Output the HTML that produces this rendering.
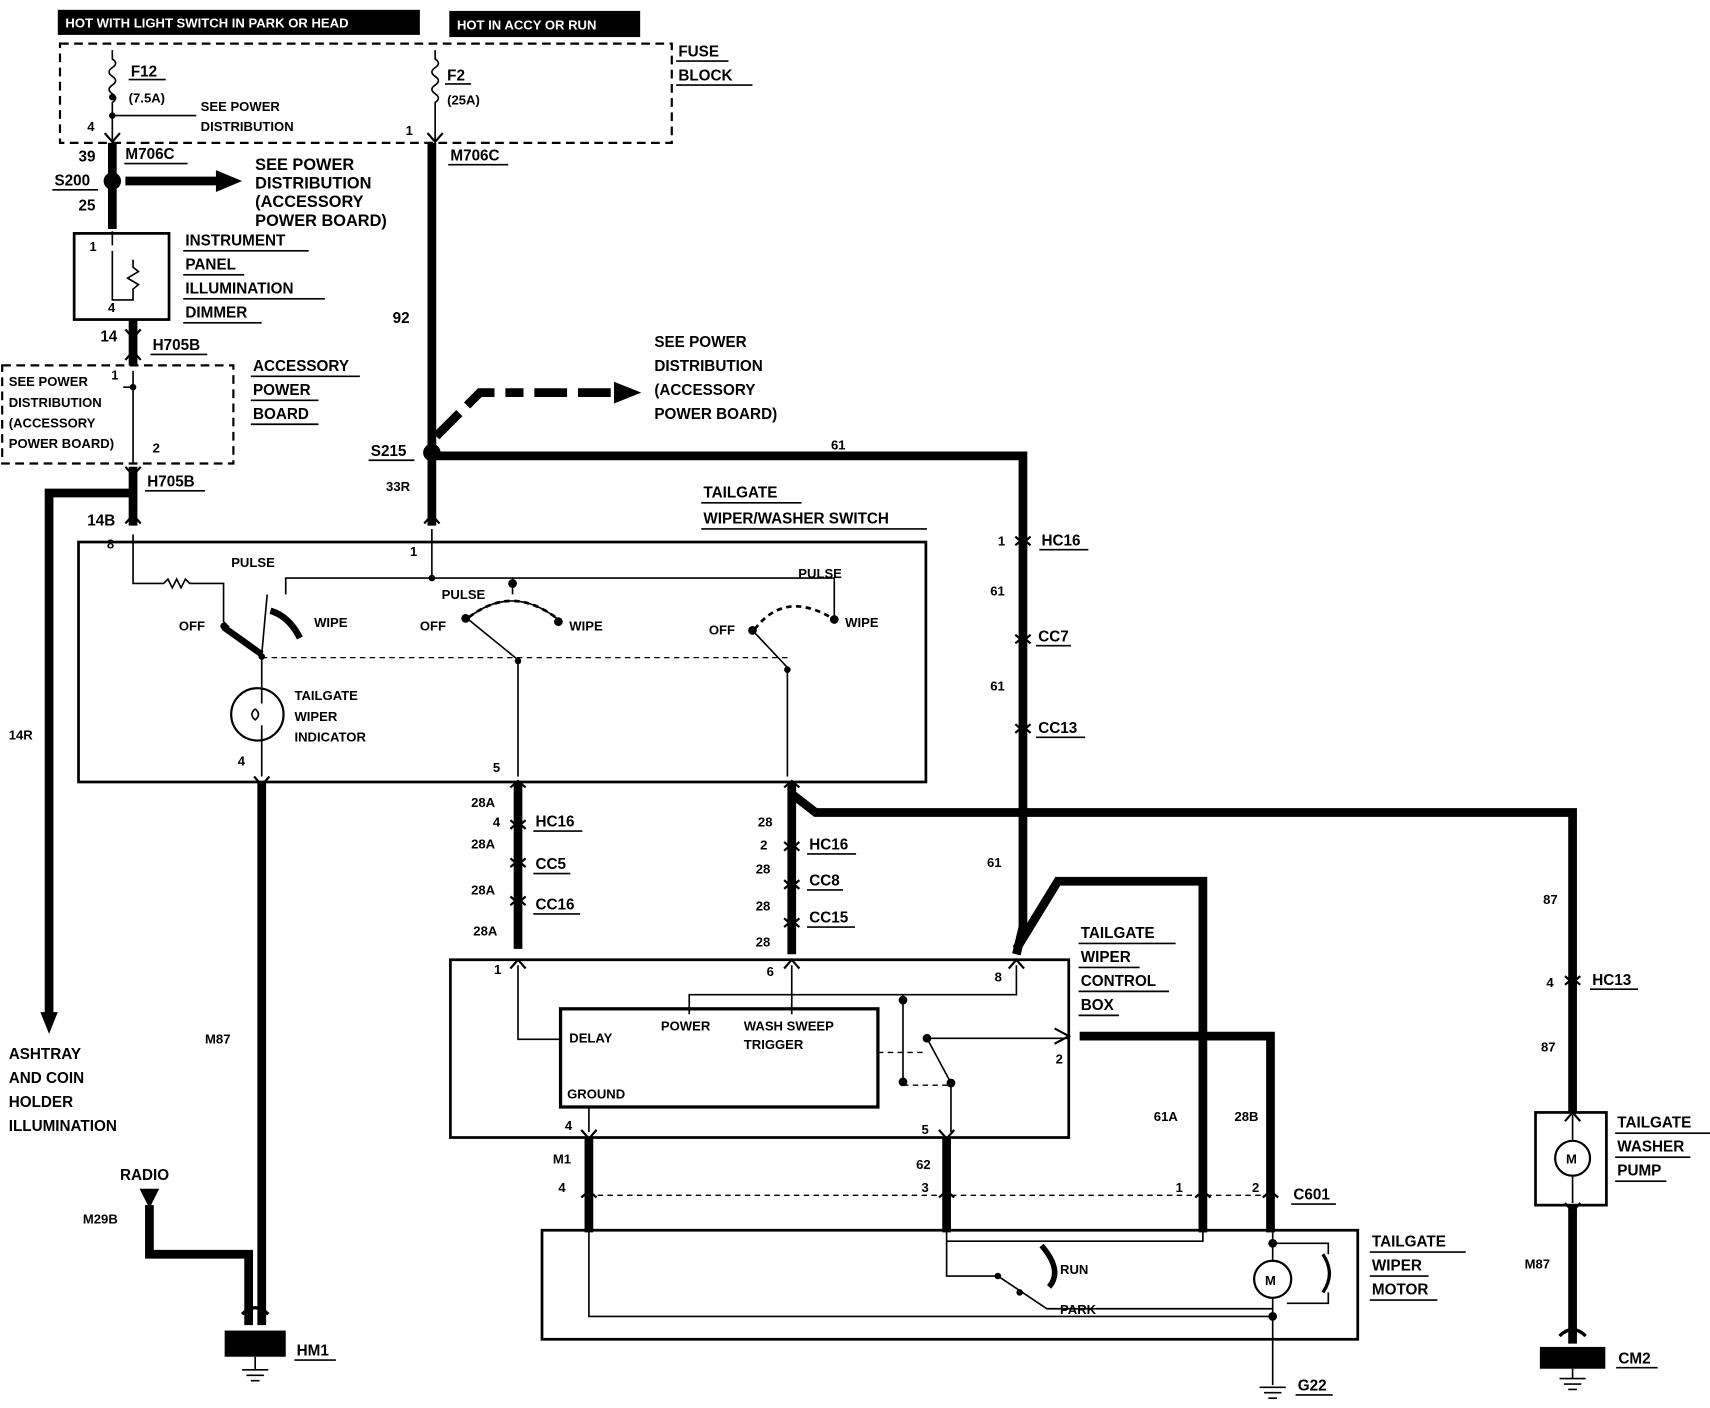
<!DOCTYPE html>
<html><head><meta charset="utf-8"><style>
html,body{margin:0;padding:0;background:#fff}
svg{display:block}
text{font-family:"Liberation Sans",sans-serif;font-weight:bold;font-size:14px;fill:#000}
.s{font-size:12px}
.t{stroke:#000;stroke-width:8;fill:none}
.n{stroke:#000;stroke-width:1.5;fill:none}
.d{stroke:#000;stroke-width:2;fill:none;stroke-dasharray:8 5}
.dt{stroke:#000;stroke-width:1.2;fill:none;stroke-dasharray:5 4}
.u{stroke:#000;stroke-width:1.5}
</style></head><body>
<svg width="1710" height="1408" viewBox="0 0 1568 1291" preserveAspectRatio="none">
<rect width="1568" height="1291" fill="#fff"/>
<!-- top labels -->
<rect x="53" y="9" width="332" height="23" fill="#000"/>
<text x="60" y="25" style="fill:#fff" class="s">HOT WITH LIGHT SWITCH IN PARK OR HEAD</text>
<rect x="412" y="10" width="175" height="24" fill="#000"/>
<text x="419" y="27" style="fill:#fff" class="s">HOT IN ACCY OR RUN</text>
<rect x="55" y="40" width="561" height="91" class="d"/>
<text x="622" y="52">FUSE</text><line x1="620" y1="56" x2="668" y2="56" class="u"/>
<text x="622" y="74">BLOCK</text><line x1="620" y1="78" x2="690" y2="78" class="u"/>
<!-- F12 -->
<path d="M103 46 v8 q6 4 0 8 q-6 4 0 8 q6 4 0 8 q-6 4 0 8 q6 4 0 8 v40" class="n"/>
<circle cx="103" cy="89" r="3"/><circle cx="103" cy="106" r="3"/>
<path d="M103 106 H180" class="n"/>
<text x="120" y="70">F12</text><line x1="118" y1="73" x2="152" y2="73" class="u"/>
<text x="118" y="94" class="s">(7.5A)</text>
<text x="184" y="102" class="s">SEE POWER</text><text x="184" y="120" class="s">DISTRIBUTION</text>
<text x="80" y="120" class="s">4</text>
<!-- F2 -->
<path d="M399 46 v8 q6 4 0 8 q-6 4 0 8 q6 4 0 8 q-6 4 0 8 q6 4 0 8 v40" class="n"/>
<text x="410" y="74">F2</text><line x1="408" y1="77" x2="432" y2="77" class="u"/>
<text x="410" y="96" class="s">(25A)</text>
<text x="372" y="124" class="s">1</text>
<!-- left wire -->
<path d="M103 131 V210" class="t"/>
<circle cx="103" cy="166" r="8"/>
<path d="M115 166 H200" class="t"/><path d="M198 156 L222 166 L198 176 Z"/>
<text x="72" y="148">39</text><text x="115" y="146">M706C</text><line x1="114" y1="150" x2="172" y2="150" class="u"/>
<text x="50" y="170">S200</text><line x1="48" y1="174" x2="90" y2="174" class="u"/>
<text x="72" y="193">25</text>
<text x="234" y="156" style="font-size:15px">SEE POWER</text>
<text x="234" y="173" style="font-size:15px">DISTRIBUTION</text>
<text x="234" y="190" style="font-size:15px">(ACCESSORY</text>
<text x="234" y="207" style="font-size:15px">POWER BOARD)</text>
<!-- dimmer -->
<rect x="68" y="214" width="87" height="79" class="n" style="stroke-width:2.5"/>
<path d="M103 212 V225 M103 230 V275 H122 V265 l5 -4 l-10 -6 l10 -6 l-5 -4 V238" class="n"/>
<text x="82" y="230" class="s">1</text><text x="99" y="286" class="s">4</text>
<text x="170" y="225">INSTRUMENT</text><line x1="168" y1="230" x2="283" y2="230" class="u"/>
<text x="170" y="247">PANEL</text><line x1="168" y1="252" x2="224" y2="252" class="u"/>
<text x="170" y="269">ILLUMINATION</text><line x1="168" y1="274" x2="298" y2="274" class="u"/>
<text x="170" y="291">DIMMER</text><line x1="168" y1="296" x2="240" y2="296" class="u"/>
<path d="M122 293 V335" class="t"/>
<text x="92" y="313">14</text><text x="140" y="321">H705B</text><line x1="138" y1="325" x2="190" y2="325" class="u"/>
<!-- accessory board -->
<rect x="2" y="335" width="212" height="90" class="d"/>
<text x="8" y="354" class="s">SEE POWER</text><text x="8" y="373" class="s">DISTRIBUTION</text>
<text x="8" y="392" class="s">(ACCESSORY</text><text x="8" y="411" class="s">POWER BOARD)</text>
<path d="M122 340 V425 M122 355 H113" class="n"/><circle cx="122" cy="355" r="3"/>
<text x="102" y="348" class="s">1</text><text x="140" y="415" class="s">2</text>
<text x="232" y="340">ACCESSORY</text><line x1="230" y1="345" x2="330" y2="345" class="u"/>
<text x="232" y="362">POWER</text><line x1="230" y1="367" x2="292" y2="367" class="u"/>
<text x="232" y="384">BOARD</text><line x1="230" y1="389" x2="292" y2="389" class="u"/>
<path d="M122 428 V482 M122 452 H45 V930" class="t"/>
<path d="M37 928 L45 948 L53 928 Z"/>
<text x="135" y="446">H705B</text><line x1="133" y1="450" x2="188" y2="450" class="u"/>
<text x="80" y="482">14B</text><text x="8" y="678" class="s">14R</text>
<text x="8" y="971">ASHTRAY</text><text x="8" y="993">AND COIN</text>
<text x="8" y="1015">HOLDER</text><text x="8" y="1037">ILLUMINATION</text>
<!-- main feed -->
<path d="M396 131 V482" class="t"/>
<text x="413" y="147">M706C</text><line x1="411" y1="151" x2="466" y2="151" class="u"/>
<text x="360" y="296">92</text>
<circle cx="396" cy="415" r="8"/>
<path d="M400 400 L440 360 H480" class="t" style="stroke-dasharray:30 10"/>
<path d="M490 360 H565" class="t" style="stroke-dasharray:30 10"/>
<path d="M563 350 L588 360 L563 370 Z"/>
<text x="600" y="318">SEE POWER</text><text x="600" y="340">DISTRIBUTION</text>
<text x="600" y="362">(ACCESSORY</text><text x="600" y="384">POWER BOARD)</text>
<text x="340" y="418">S215</text><line x1="338" y1="422" x2="380" y2="422" class="u"/>
<text x="354" y="450" class="s">33R</text>
<path d="M400 418 H938 V850 L932 875" class="t"/>
<text x="762" y="412" class="s">61</text>
<text x="915" y="500" class="s">1</text><text x="955" y="500">HC16</text><line x1="953" y1="504" x2="998" y2="504" class="u"/>
<text x="908" y="546" class="s">61</text>
<text x="952" y="588">CC7</text><line x1="950" y1="592" x2="982" y2="592" class="u"/>
<text x="908" y="633" class="s">61</text>
<text x="952" y="672">CC13</text><line x1="950" y1="676" x2="995" y2="676" class="u"/>
<text x="905" y="795" class="s">61</text>
<!-- switch box -->
<rect x="72" y="497" width="777" height="220" class="n" style="stroke-width:2.5"/>
<text x="645" y="456">TAILGATE</text><line x1="643" y1="461" x2="735" y2="461" class="u"/>
<text x="645" y="480">WIPER/WASHER SWITCH</text><line x1="643" y1="485" x2="850" y2="485" class="u"/>
<text x="98" y="503" class="s">8</text><text x="376" y="510" class="s">1</text>
<path d="M122 490 V535 H150 l4 -4 l4 8 l4 -8 l4 8 l4 -8 l4 4 H205 V570 L210 575" class="n"/>
<path d="M396 485 V530 H262 V545 M396 530 H765 V565 M470 530 V545" class="n"/>
<circle cx="396" cy="530" r="3"/><circle cx="470" cy="535" r="4"/>
<path d="M205 575 L240 600 M248 560 Q265 565 275 585" class="n" style="stroke-width:6"/>
<path d="M240 600 L245 545" class="n"/>
<circle cx="205" cy="574" r="3"/><circle cx="240" cy="602" r="3"/>
<text x="164" y="578" class="s">OFF</text><text x="212" y="520" class="s">PULSE</text><text x="288" y="575" class="s">WIPE</text>
<path d="M427 566 L475 605 M430 566 Q470 535 512 568" class="n"/>
<path d="M430 566 Q470 535 512 568" class="dt" style="stroke-width:2.5"/>
<circle cx="427" cy="567" r="4"/><circle cx="512" cy="570" r="4"/><circle cx="475" cy="606" r="3"/>
<text x="385" y="578" class="s">OFF</text><text x="405" y="549" class="s">PULSE</text><text x="522" y="578" class="s">WIPE</text>
<path d="M690 578 L722 612" class="n"/>
<path d="M692 577 Q720 540 765 568" class="dt" style="stroke-width:2.5"/>
<circle cx="690" cy="578" r="4"/><circle cx="765" cy="568" r="4"/><circle cx="722" cy="614" r="3"/>
<text x="650" y="582" class="s">OFF</text><text x="732" y="530" class="s">PULSE</text><text x="775" y="575" class="s">WIPE</text>
<path d="M240 603 H725" class="dt"/>
<path d="M240 603 V630 M240 670 V712 M475 606 V712 M722 615 V712" class="n"/>
<circle cx="236" cy="655" r="24" class="n" style="stroke-width:2"/>
<path d="M240 630 V645 M240 665 V680 M234 650 q-6 5 0 10 q6 -5 0 -10" class="n"/>
<text x="270" y="642" class="s">TAILGATE</text><text x="270" y="661" class="s">WIPER</text><text x="270" y="680" class="s">INDICATOR</text>
<text x="218" y="702" class="s">4</text><text x="452" y="708" class="s">5</text>
<!-- down wires -->
<path d="M240 717 V1215" class="t"/>
<text x="188" y="957" class="s">M87</text>
<path d="M475 717 V870" class="t"/>
<text x="432" y="740" class="s">28A</text><text x="452" y="758" class="s">4</text>
<text x="491" y="758">HC16</text><line x1="489" y1="762" x2="534" y2="762" class="u"/>
<text x="432" y="778" class="s">28A</text>
<text x="491" y="797">CC5</text><line x1="489" y1="801" x2="523" y2="801" class="u"/>
<text x="432" y="820" class="s">28A</text>
<text x="491" y="834">CC16</text><line x1="489" y1="838" x2="532" y2="838" class="u"/>
<text x="434" y="858" class="s">28A</text>
<path d="M726 717 V875 M726 728 L748 745 H1442 V1020" class="t"/>
<text x="695" y="758" class="s">28</text><text x="697" y="779" class="s">2</text>
<text x="742" y="779">HC16</text><line x1="740" y1="783" x2="785" y2="783" class="u"/>
<text x="693" y="801" class="s">28</text>
<text x="742" y="812">CC8</text><line x1="740" y1="816" x2="773" y2="816" class="u"/>
<text x="693" y="835" class="s">28</text>
<text x="742" y="846">CC15</text><line x1="740" y1="850" x2="784" y2="850" class="u"/>
<text x="693" y="868" class="s">28</text>
<!-- connector X marks -->
<g stroke="#000" stroke-width="2" fill="none">
<path d="M115 480 l7 -8 l7 8 M115 428 l7 8 l7 -8 M115 302 l7 8 l7 -8 M115 330 l7 -8 l7 8"/>
<path d="M389 480 l7 -8 l7 8 M392 122 l7 8 l7 -8 M96 122 l7 8 l7 -8"/>
<path d="M931 500 l7 -6 l7 6 M931 492 l7 6 l7 -6 M931 590 l7 -6 l7 6 M931 582 l7 6 l7 -6 M931 672 l7 -6 l7 6 M931 664 l7 6 l7 -6"/>
<path d="M233 712 l7 8 l7 -8 M468 722 l7 -6 l7 6 M719 722 l7 -6 l7 6"/>
<path d="M468 760 l7 -6 l7 6 M468 752 l7 6 l7 -6 M468 795 l7 -6 l7 6 M468 787 l7 6 l7 -6 M468 830 l7 -6 l7 6 M468 822 l7 6 l7 -6"/>
<path d="M719 780 l7 -6 l7 6 M719 772 l7 6 l7 -6 M719 815 l7 -6 l7 6 M719 807 l7 6 l7 -6 M719 850 l7 -6 l7 6 M719 842 l7 6 l7 -6"/>
<path d="M468 888 l7 -8 l7 8 M719 888 l7 -8 l7 8 M925 888 l7 -8 l7 8"/>
<path d="M533 1036 l7 8 l7 -8 M861 1036 l7 8 l7 -8"/>
<path d="M1435 903 l7 -6 l7 6 M1435 895 l7 6 l7 -6 M1435 1028 l7 -8 l7 8 M1435 1103 l7 8 l7 -8"/>
<path d="M1096 1098 l7 -6 l7 6 M1158 1098 l7 -6 l7 6 M533 1098 l7 -6 l7 6 M861 1098 l7 -6 l7 6"/>
</g>
<!-- control box -->
<rect x="413" y="880" width="567" height="163" class="n" style="stroke-width:2.5"/>
<rect x="514" y="925" width="291" height="90" class="n" style="stroke-width:3"/>
<path d="M475 885 V953 H514 M726 885 V930 M632 930 V912 H828 V990 M932 885 V912 H828" class="n"/>
<circle cx="828" cy="917" r="4"/><circle cx="828" cy="992" r="4"/><circle cx="850" cy="952" r="4"/><circle cx="872" cy="993" r="4"/>
<path d="M850 952 L872 993 M850 952 H980 M872 993 V1038" class="n"/>
<path d="M805 965 H850 M828 995 H872" class="dt"/>
<path d="M540 1015 V1038" class="n"/>
<path d="M967 943 L980 950 L967 957" class="n" style="stroke-width:2"/>
<text x="453" y="893" class="s">1</text><text x="703" y="895" class="s">6</text><text x="912" y="900" class="s">8</text>
<text x="968" y="975" class="s">2</text><text x="518" y="1036" class="s">4</text><text x="845" y="1040" class="s">5</text>
<text x="522" y="956" class="s">DELAY</text><text x="606" y="945" class="s">POWER</text>
<text x="682" y="945" class="s">WASH SWEEP</text><text x="682" y="962" class="s">TRIGGER</text>
<text x="520" y="1007" class="s">GROUND</text>
<text x="991" y="860">TAILGATE</text><line x1="989" y1="865" x2="1078" y2="865" class="u"/>
<text x="991" y="882">WIPER</text><line x1="989" y1="887" x2="1045" y2="887" class="u"/>
<text x="991" y="904">CONTROL</text><line x1="989" y1="909" x2="1072" y2="909" class="u"/>
<text x="991" y="926">BOX</text><line x1="989" y1="931" x2="1026" y2="931" class="u"/>
<!-- 61A / 28B -->
<path d="M932 870 L970 808 H1103 V1130" class="t"/>
<path d="M990 950 H1165 V1130" class="t"/>
<text x="1058" y="1028" class="s">61A</text><text x="1132" y="1028" class="s">28B</text>
<text x="1078" y="1093" class="s">1</text><text x="1148" y="1093" class="s">2</text>
<text x="1186" y="1100">C601</text><line x1="1184" y1="1104" x2="1225" y2="1104" class="u"/>
<!-- M1 / 62 -->
<path d="M540 1043 V1130 M868 1043 V1130" class="t"/>
<text x="507" y="1067" class="s">M1</text><text x="512" y="1093" class="s">4</text>
<text x="840" y="1072" class="s">62</text><text x="845" y="1093" class="s">3</text>
<path d="M548 1096 H1160" class="dt"/>
<!-- motor -->
<rect x="497" y="1128" width="748" height="100" class="n" style="stroke-width:2.5"/>
<path d="M540 1128 V1207 H1167 M868 1128 V1170 H915 M1103 1128 V1138 H868 M1167 1130 V1155 M1167 1190 V1270 M1167 1140 H1218 V1150 M1218 1185 V1195 H1180" class="n"/>
<path d="M1213 1150 q12 18 0 35" class="n" style="stroke-width:3"/>
<circle cx="1167" cy="1173" r="17" class="n" style="stroke-width:2"/>
<text x="1160" y="1178" class="s">M</text>
<circle cx="1167" cy="1140" r="4"/><circle cx="1167" cy="1207" r="4"/>
<path d="M955 1142 Q975 1165 962 1180" class="n" style="stroke-width:5"/>
<path d="M915 1170 L960 1200 H1167" class="n"/>
<circle cx="915" cy="1170" r="3"/><circle cx="935" cy="1185" r="3"/>
<text x="972" y="1168" class="s">RUN</text><text x="972" y="1205" class="s">PARK</text>
<text x="1258" y="1143">TAILGATE</text><line x1="1256" y1="1148" x2="1344" y2="1148" class="u"/>
<text x="1258" y="1165">WIPER</text><line x1="1256" y1="1170" x2="1310" y2="1170" class="u"/>
<text x="1258" y="1187">MOTOR</text><line x1="1256" y1="1192" x2="1318" y2="1192" class="u"/>
<!-- G22 -->
<path d="M1155 1272 H1179 M1159 1277 H1175 M1163 1282 H1171" class="n"/>
<text x="1190" y="1275">G22</text><line x1="1188" y1="1279" x2="1222" y2="1279" class="u"/>
<!-- radio / HM1 -->
<text x="110" y="1082">RADIO</text>
<path d="M128 1090 H146 L137 1108 Z"/>
<text x="76" y="1122" class="s">M29B</text>
<path d="M137 1105 V1150 H228 V1215" class="t"/>
<path d="M222 1205 q12 -12 24 0" class="n" style="stroke-width:3"/>
<rect x="206" y="1220" width="56" height="24" fill="#000"/>
<path d="M234 1244 V1256 M222 1256 H246 M226 1261 H242 M230 1266 H238" class="n"/>
<text x="272" y="1243">HM1</text><line x1="270" y1="1247" x2="308" y2="1247" class="u"/>
<!-- pump -->
<text x="1415" y="829" class="s">87</text>
<text x="1418" y="905" class="s">4</text>
<text x="1460" y="903">HC13</text><line x1="1458" y1="907" x2="1502" y2="907" class="u"/>
<text x="1413" y="964" class="s">87</text>
<rect x="1408" y="1020" width="65" height="85" class="n" style="stroke-width:2.5"/>
<path d="M1442 1022 V1045 M1442 1078 V1103" class="n"/>
<circle cx="1442" cy="1062" r="16" class="n" style="stroke-width:2"/>
<text x="1436" y="1067" class="s">M</text>
<text x="1483" y="1034">TAILGATE</text><line x1="1481" y1="1039" x2="1568" y2="1039" class="u"/>
<text x="1483" y="1056">WASHER</text><line x1="1481" y1="1061" x2="1550" y2="1061" class="u"/>
<text x="1483" y="1078">PUMP</text><line x1="1481" y1="1083" x2="1528" y2="1083" class="u"/>
<path d="M1442 1105 V1232" class="t"/>
<text x="1398" y="1163" class="s">M87</text>
<path d="M1430 1225 q12 -12 24 0" class="n" style="stroke-width:3"/>
<rect x="1412" y="1235" width="60" height="20" fill="#000"/>
<path d="M1442 1255 V1264 M1430 1264 H1454 M1434 1269 H1450 M1438 1274 H1446" class="n"/>
<text x="1484" y="1250">CM2</text><line x1="1482" y1="1254" x2="1520" y2="1254" class="u"/>
</svg>
</body></html>
